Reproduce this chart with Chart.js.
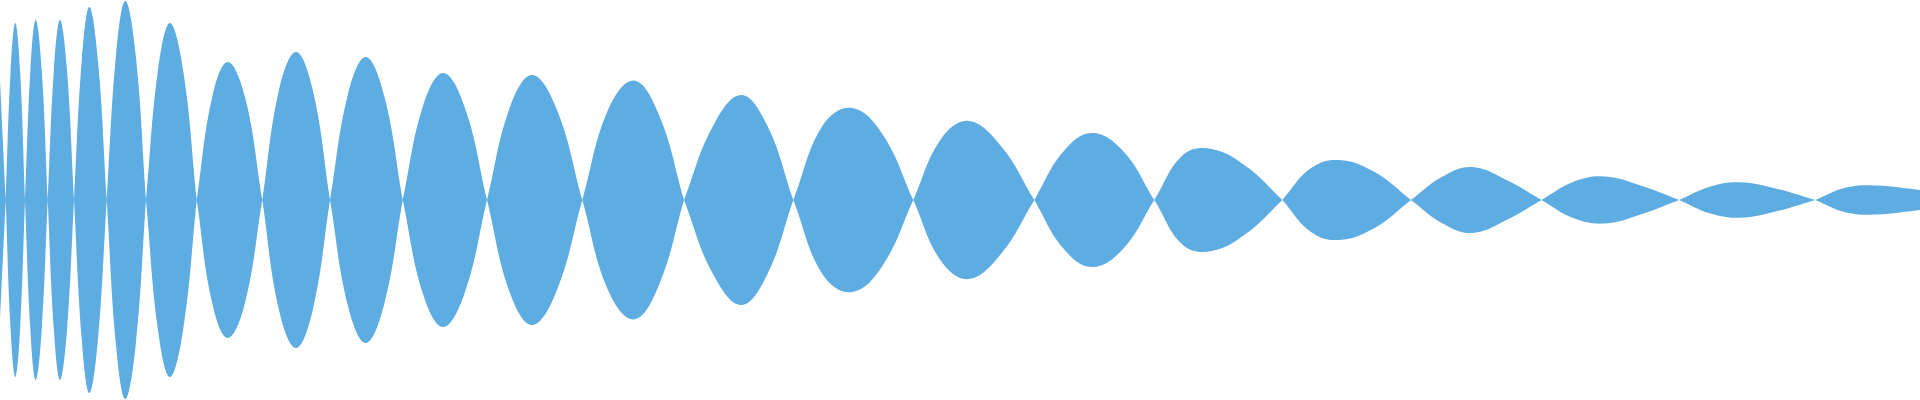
<!DOCTYPE html>
<html>
<head>
<meta charset="utf-8">
<title>Waveform</title>
<script src="https://cdn.jsdelivr.net/npm/chart.js@4.4.1/dist/chart.umd.min.js"></script>
<style>
  html, body { margin: 0; padding: 0; background: #fff; }
  #wrap { width: 1920px; height: 400px; position: relative; }
</style>
</head>
<body>
<div id="wrap"><canvas id="wave"></canvas></div>
<script>
// upper envelope samples (x along the track, y = half height)
// zero crossings are the 0 entries
const sampleX = [
  0, 5.7,
  10.5, 15.3, 20.2, 25,
  30.4, 35.7, 41.7, 47.7,
  53.9, 60, 67, 74,
  81.7, 89.3, 98, 106.7,
  116, 125.3, 135.7, 146,
  158, 170, 183.4, 196.7,
  212.2, 227.7, 245, 262.3,
  279, 296, 313, 330,
  348, 365.7, 384, 402.7,
  423, 443.3, 465, 487,
  510, 532.3, 557, 582.3,
  608, 634, 659, 684,
  712.5, 741, 767, 793.3,
  823, 852.3, 883, 913.3,
  941, 969, 1001.7, 1034.3,
  1063, 1091.7, 1123, 1154.3,
  1183, 1211.7, 1247, 1282.3,
  1310.7, 1339, 1375, 1411,
  1441.3, 1471.7, 1506.6, 1541.5,
  1573, 1605, 1642, 1679.3,
  1709.7, 1740, 1777.7, 1815.3,
  1846, 1877, 1920
];
const sampleY = [
  120, 0,
  127, 177, 127, 0,
  130, 180, 130, 0,
  130, 180, 130, 0,
  139, 193, 139, 0,
  145, 199, 145, 0,
  130, 177, 128, 0,
  103, 138, 103, 0,
  110, 148, 109, 0,
  106, 143, 105, 0,
  94, 127, 92, 0,
  93, 125, 90, 0,
  90, 119.5, 85, 0,
  73, 105, 75, 0,
  75, 92, 65, 0,
  61, 79, 53, 0,
  48, 67, 49, 0,
  45, 51, 33, 0,
  31.7, 40, 27.7, 0,
  22.7, 33, 20, 0,
  18, 23.5, 14, 0,
  13.3, 17.7, 11, 0,
  12.5, 14.5, 10
];

const FILL = "#5DADE2";

// build the two mirrored edges; zero points are doubled so the curve meets them in a point
const upper = [];
const lower = [];
sampleX.forEach((x, i) => {
  const y = sampleY[i];
  const reps = (y === 0) ? 2 : 1;
  for (let k = 0; k < reps; k++) {
    upper.push({ x: x, y: y });
    lower.push({ x: x, y: -y });
  }
});

new Chart(document.getElementById("wave"), {
  type: 'line',
  data: {
    datasets: [{
      data: upper,
      borderColor: FILL,
      backgroundColor: FILL,
      borderWidth: 0,
      pointRadius: 0,
      tension: 0.4,
      fill: false
    }, {
      data: lower,
      borderColor: FILL,
      backgroundColor: FILL,
      borderWidth: 0,
      pointRadius: 0,
      tension: 0.4,
      fill: '-1'
    }]
  },
  options: {
    responsive: true,
    maintainAspectRatio: false,
    animation: false,
    layout: { padding: 0 },
    plugins: {
      legend: { display: false },
      tooltip: { enabled: false }
    },
    scales: {
      x: { type: 'linear', min: 0, max: 1920, display: false },
      y: { min: -200, max: 200, display: false }
    }
  }
});
</script>
</body>
</html>
